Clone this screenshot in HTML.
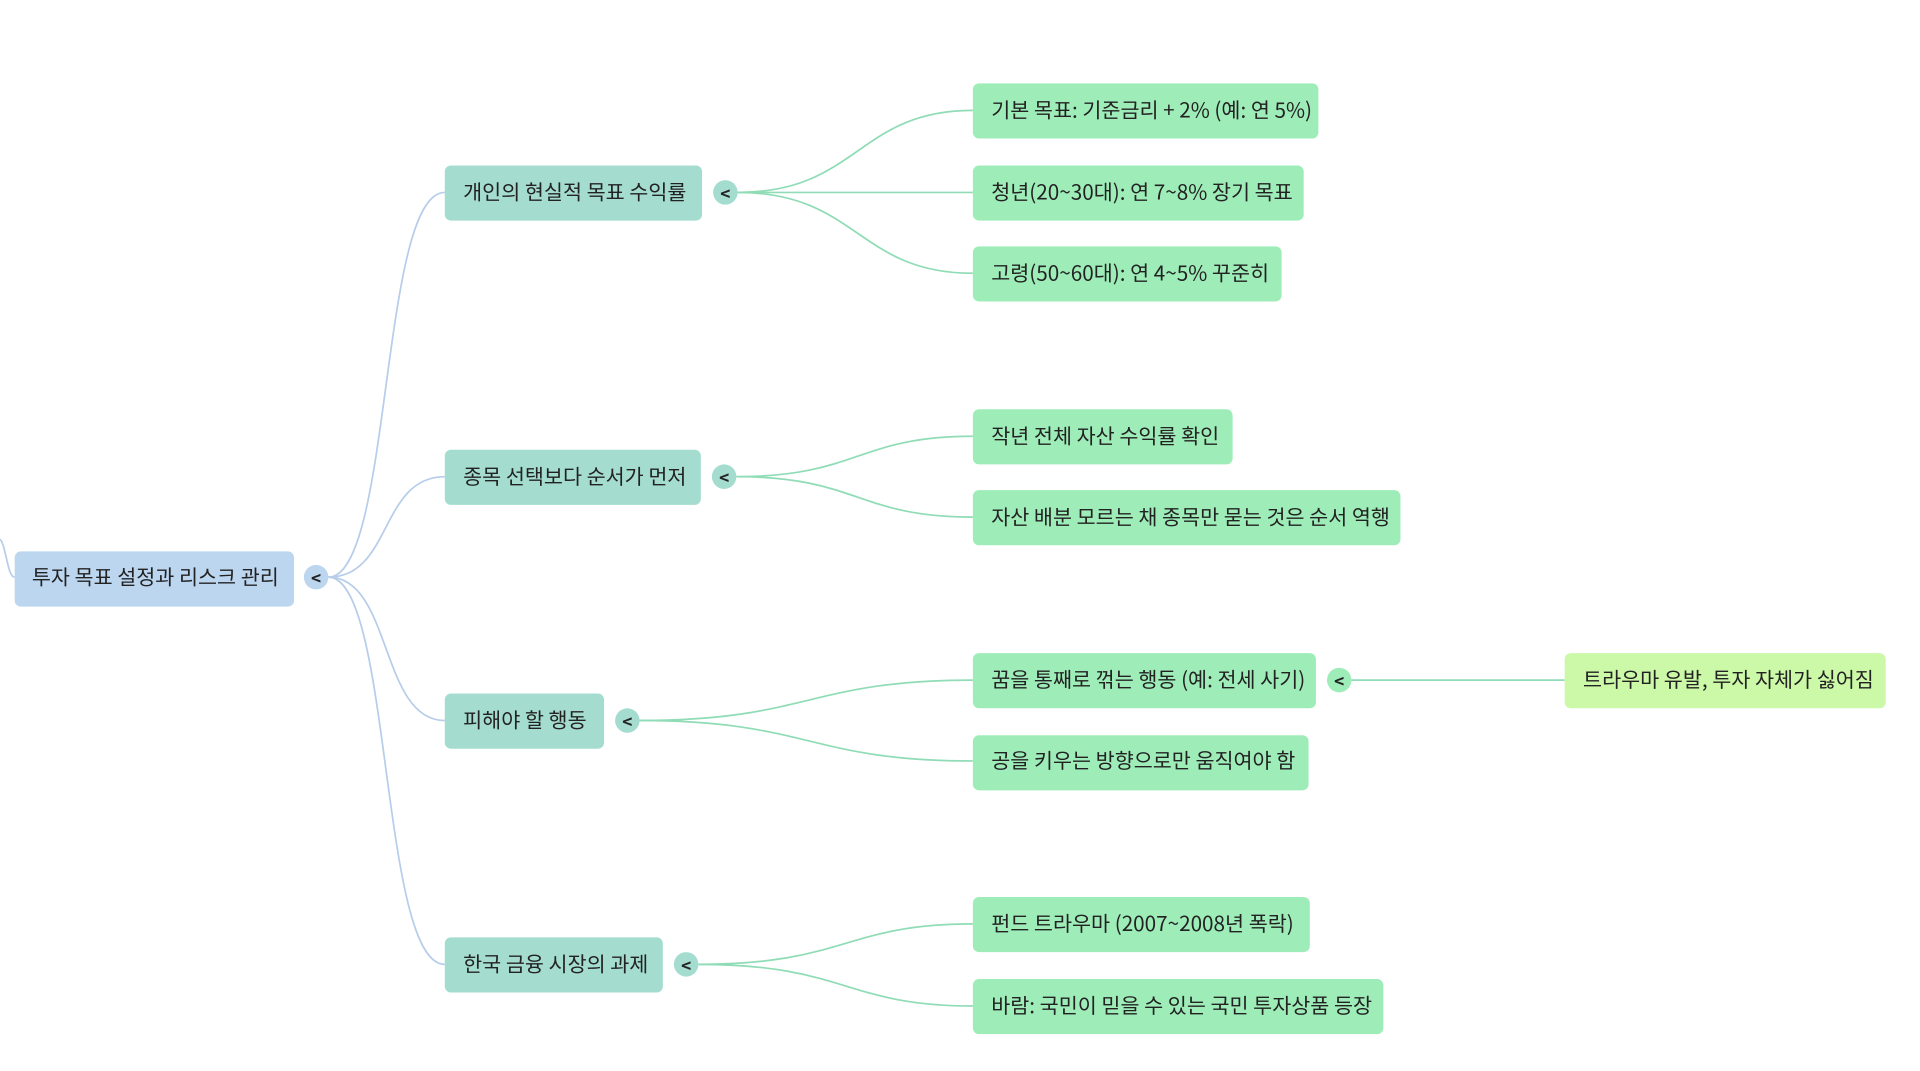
<!DOCTYPE html>
<html><head><meta charset="utf-8"><style>
html,body{margin:0;padding:0;background:#fff;width:1920px;height:1071px;overflow:hidden}
svg text{font-family:"Noto Sans CJK KR","Liberation Sans",sans-serif;font-size:16.9px;fill:#222;dominant-baseline:central}
.t{transform:translateY(-1.5px)}
.c{font-size:14px;text-anchor:middle;font-weight:bold}
</style></head><body>
<svg width="1920" height="1071" viewBox="0 0 1567 874" xmlns="http://www.w3.org/2000/svg">
<g fill="none" stroke-width="1.4">
<path d="M0,440 C5,445 6,471 12,471" stroke="#b7cdea"/>
<g stroke="#b7cdea">
<path d="M268,471 C320,471 310,157 363,157"/>
<path d="M268,471 C320,471 310,389 363,389"/>
<path d="M268,471 C320,471 310,588 363,588"/>
<path d="M268,471 C320,471 310,787 363,787"/>
</g>
<g stroke="#8fdcb6">
<path d="M602,157 C700,157 700,90 794,90"/>
<path d="M602,157 L794,157"/>
<path d="M602,157 C700,157 700,223 794,223"/>
<path d="M601,389 C700,389 700,356 794,356"/>
<path d="M601,389 C700,389 700,422 794,422"/>
<path d="M522,588 C660,588 660,555 794,555"/>
<path d="M522,588 C660,588 660,621 794,621"/>
<path d="M570,787 C690,787 690,754 794,754"/>
<path d="M570,787 C690,787 690,821 794,821"/>
<path d="M1103,555 L1277,555"/>
</g>
</g>
<rect x="12" y="450" width="228" height="45" rx="5" fill="#bcd6f0"/>
<g fill="#a4ddd0">
<rect x="363" y="135" width="210" height="45" rx="5"/>
<rect x="363" y="367" width="209" height="45" rx="5"/>
<rect x="363" y="566" width="130" height="45" rx="5"/>
<rect x="363" y="765" width="178" height="45" rx="5"/>
</g>
<g fill="#9eedb9">
<rect x="794" y="68" width="282" height="45" rx="5"/>
<rect x="794" y="135" width="270" height="45" rx="5"/>
<rect x="794" y="201" width="252" height="45" rx="5"/>
<rect x="794" y="334" width="212" height="45" rx="5"/>
<rect x="794" y="400" width="349" height="45" rx="5"/>
<rect x="794" y="533" width="280" height="45" rx="5"/>
<rect x="794" y="600" width="274" height="45" rx="5"/>
<rect x="794" y="732" width="275" height="45" rx="5"/>
<rect x="794" y="799" width="335" height="45" rx="5"/>
</g>
<rect x="1277" y="533" width="262" height="45" rx="5" fill="#ccf9a8"/>
<g class="t">
<text x="26" y="471">투자 목표 설정과 리스크 관리</text>
<text x="378" y="157">개인의 현실적 목표 수익률</text>
<text x="378" y="389">종목 선택보다 순서가 먼저</text>
<text x="378" y="588">피해야 할 행동</text>
<text x="378" y="787">한국 금융 시장의 과제</text>
<text x="809" y="90">기본 목표: 기준금리 + 2% (예: 연 5%)</text>
<text x="809" y="157">청년(20~30대): 연 7~8% 장기 목표</text>
<text x="809" y="223">고령(50~60대): 연 4~5% 꾸준히</text>
<text x="809" y="356">작년 전체 자산 수익률 확인</text>
<text x="809" y="422">자산 배분 모르는 채 종목만 묻는 것은 순서 역행</text>
<text x="809" y="555">꿈을 통째로 꺾는 행동 (예: 전세 사기)</text>
<text x="809" y="621">공을 키우는 방향으로만 움직여야 함</text>
<text x="809" y="754">펀드 트라우마 (2007~2008년 폭락)</text>
<text x="809" y="821">바람: 국민이 믿을 수 있는 국민 투자상품 등장</text>
<text x="1292" y="555">트라우마 유발, 투자 자체가 싫어짐</text>
</g>
<circle cx="258" cy="471" r="10" fill="#bcd6f0"/>
<g fill="#a4ddd0">
<circle cx="592" cy="157" r="10"/><circle cx="591" cy="389" r="10"/><circle cx="512" cy="588" r="10"/><circle cx="560" cy="787" r="10"/>
</g>
<circle cx="1093" cy="555" r="10" fill="#9eedb9"/>
<text class="c" x="258" y="471">&lt;</text><text class="c" x="592" y="157">&lt;</text><text class="c" x="591" y="389">&lt;</text><text class="c" x="512" y="588">&lt;</text><text class="c" x="560" y="787">&lt;</text><text class="c" x="1093" y="555">&lt;</text>
</svg>
</body></html>
